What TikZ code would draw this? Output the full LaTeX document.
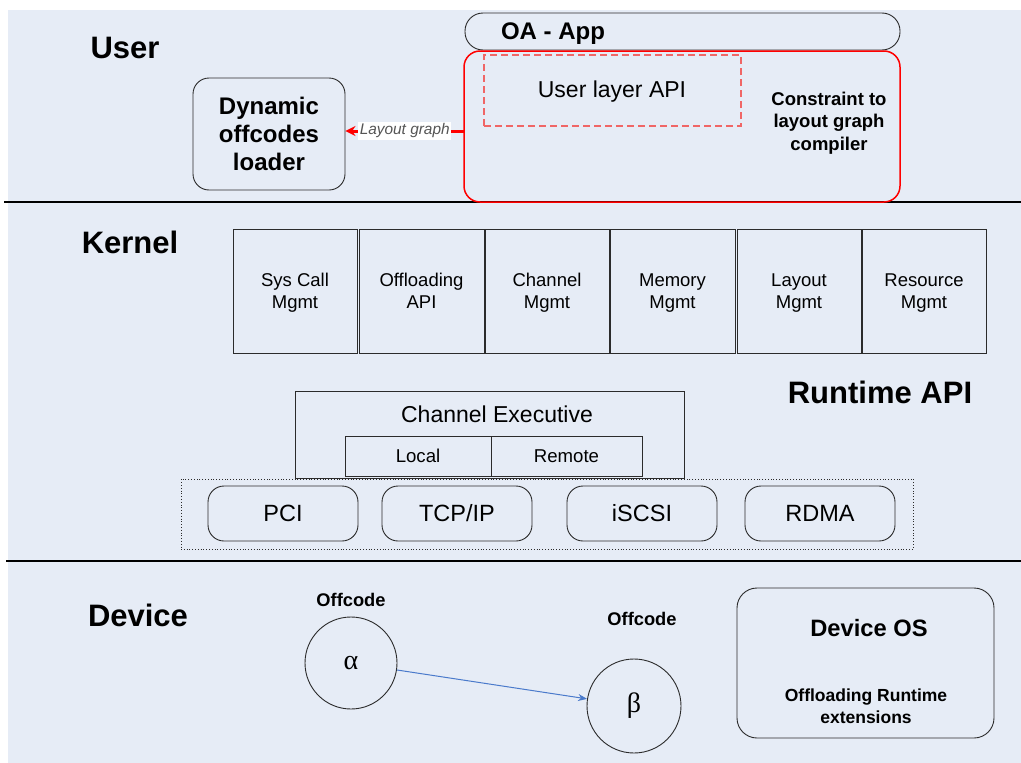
\documentclass[tikz,border=0pt]{standalone}
\usepackage{fontspec}
\setmainfont{Liberation Sans}
\newfontfamily\greekfont{Liberation Serif}
\usetikzlibrary{arrows.meta}
\definecolor{panelbg}{HTML}{E6ECF6}
\definecolor{edgegray}{HTML}{2B2B2B}
\definecolor{apired}{HTML}{F06666}
\definecolor{linkblue}{HTML}{4A7ACB}
\definecolor{labelgray}{HTML}{555555}
\newcommand{\fs}[1]{\fontsize{#1}{#1}\selectfont}
\tikzset{
  layertitle/.style={font=\fs{31}\bfseries, inner sep=0pt},
  plainbox/.style={draw=edgegray, line width=0.9pt, inner sep=0pt, align=center},
  roundbox/.style={plainbox, rounded corners=16pt},
  kbox/.style={plainbox, minimum width=124pt, minimum height=124pt, font=\fs{18.5}, text depth=0pt},
  protobox/.style={roundbox, minimum width=150pt, minimum height=55pt, font=\fs{23.5}},
  offcode/.style={circle, draw=edgegray, line width=0.9pt, inner sep=0pt, font=\greekfont\fs{28}},
  smalllabel/.style={font=\fs{18.3}\bfseries, inner sep=0pt},
}
\begin{document}
\begin{tikzpicture}[x=1pt, y=-1pt]
\useasboundingbox (0,0) rectangle (1021,763);
% canvas and layer separators
\fill[panelbg] (8,10) rectangle (1021,763);
\draw[black, line width=1.1pt] (4,202) -- (1021,202);
\draw[black, line width=1.1pt] (6,561) -- (1021,561);

% layer titles
\node[layertitle] (tuser) at (125,48) {User};
\node[layertitle] (tkernel) at (130,242) {Kernel};
\node[layertitle] (truntime) at (880,392) {Runtime API};
\node[layertitle] (tdevice) at (138,615) {Device};

% user layer
\node[plainbox, rounded corners=18pt, minimum width=435pt, minimum height=37pt] (app) at (682.5,31.5) {};
\node[font=\fs{24}\bfseries, inner sep=0pt] (apptext) at (553,34) {OA - App};
\node[draw=red, line width=1.5pt, rounded corners=16pt, minimum width=436pt, minimum height=151pt, inner sep=0pt] (constraint) at (682,126.5) {};
\node[draw=apired, line width=1.2pt, dash pattern=on 7pt off 4pt, minimum width=257pt, minimum height=71pt, inner sep=0pt] (userapi) at (612.5,90.5) {};
\node[font=\fs{23}, inner sep=0pt] (userapitext) at (612,92) {User layer API};
\node[font=\fs{18.5}\bfseries, align=center, inner sep=0pt] (compilertext) at (829,123) {Constraint to\\[4pt]layout graph\\[4pt]compiler};
\node[roundbox, minimum width=152pt, minimum height=112pt, font=\fs{24}\bfseries] (loader) at (269,134) {Dynamic\\[4pt]offcodes\\[4pt]loader};
\coordinate (lgout) at (464,131);
\draw[red, line width=3pt, -{Stealth[length=10pt, width=10pt]}] (lgout) -- (loader.east |- lgout)
  node[midway, fill=white, inner sep=1.5pt, font=\fs{15.4}\itshape, text=labelgray] (lglabel) {Layout graph};

% kernel services
\node[kbox] (k1) at (295,291) {Sys Call\\[3pt]Mgmt};
\node[kbox, minimum width=125pt] (k2) at (421.5,291) {Offloading\\[3pt]API};
\node[kbox] (k3) at (547,291) {Channel\\[3pt]Mgmt};
\node[kbox, minimum width=125pt] (k4) at (672.5,291) {Memory\\[3pt]Mgmt};
\node[kbox] (k5) at (799,291) {Layout\\[3pt]Mgmt};
\node[kbox] (k6) at (924,291) {Resource\\[3pt]Mgmt};

% channel executive and transports
\node[plainbox, minimum width=389pt, minimum height=87pt] (chexec) at (489.5,434.5) {};
\node[font=\fs{23}, inner sep=0pt] (chexectext) at (497,414) {Channel Executive};
\node[plainbox, minimum width=146pt, minimum height=40pt, font=\fs{18.6}] (local) at (418,456) {Local};
\node[plainbox, minimum width=151pt, minimum height=40pt, font=\fs{18.6}] (remote) at (566.5,456) {Remote};
\node[draw=edgegray, line width=0.8pt, dotted, minimum width=732pt, minimum height=70pt, inner sep=0pt] (transports) at (547,514) {};
\node[protobox] (pci) at (283,513.5) {PCI};
\node[protobox] (tcp) at (457,513.5) {TCP/IP};
\node[protobox] (iscsi) at (642,513.5) {iSCSI};
\node[protobox] (rdma) at (820,513.5) {RDMA};

% device layer
\node[offcode, minimum size=92pt] (alpha) at (351,663) {α};
\node[offcode, minimum size=94pt] (beta) at (634,706) {β};
\node[smalllabel] (alphalabel) at (351,600) {Offcode};
\node[smalllabel] (betalabel) at (642,619) {Offcode};
\draw[linkblue, line width=1pt, -{Stealth[length=9pt, width=7pt]}] (alpha) -- (beta);
\node[roundbox, rounded corners=20pt, minimum width=257pt, minimum height=150pt] (devos) at (865.5,663) {};
\node[font=\fs{23.7}\bfseries, inner sep=0pt] (devostext) at (869,628) {Device OS};
\node[font=\fs{17.5}\bfseries, align=center, inner sep=0pt] (exttext) at (866,706) {Offloading Runtime\\[5pt]extensions};
\end{tikzpicture}
\end{document}
